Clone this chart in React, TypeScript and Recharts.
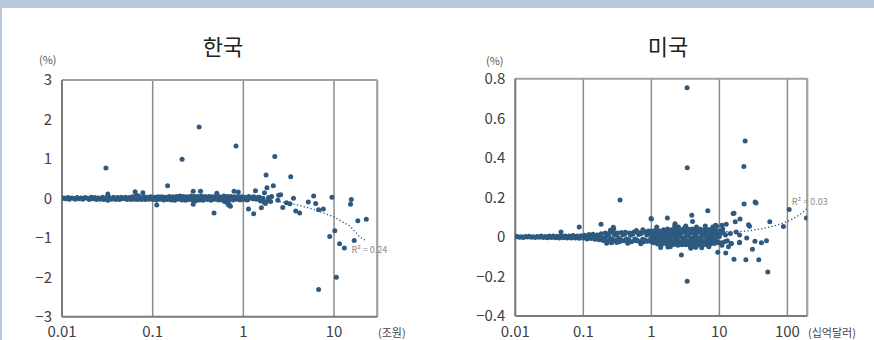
import React from 'react';
import { ScatterChart, Scatter, XAxis, YAxis, CartesianGrid, ReferenceLine, ReferenceDot } from 'recharts';

// ---------- Korea (한국) ----------
const krTitle = '한국';
const krXTicks = [0.01, 0.1, 1, 10];
const krYTicks = [-3, -2, -1, 0, 1, 2, 3];
const krBand: [number, number][] = [
  [0.010, 0], [0.0105, 0.01], [0.011, -0.01], [0.0116, 0.02], [0.012, -0.02], [0.0127, 0.01], [0.0133, 0],
  [0.014, -0.02], [0.0147, 0.02], [0.0155, -0.01], [0.0163, 0.01], [0.017, -0.02], [0.018, 0.02], [0.019, 0],
  [0.02, -0.03], [0.021, 0.03], [0.022, -0.01], [0.023, 0.02], [0.024, -0.03], [0.025, 0.01], [0.0265, -0.02],
  [0.028, 0.03], [0.029, -0.03], [0.031, 0.02], [0.032, -0.05], [0.033, 0.03], [0.035, -0.02], [0.037, 0.03],
  [0.039, -0.03], [0.041, 0.02], [0.043, -0.03], [0.045, 0.03], [0.047, -0.01], [0.05, 0.03], [0.052, -0.03],
  [0.055, 0.02], [0.058, -0.03], [0.06, 0.04], [0.063, -0.02], [0.066, 0.08], [0.068, -0.03], [0.07, 0.06],
  [0.072, 0.02], [0.075, -0.03], [0.08, 0.04], [0.083, -0.03], [0.087, 0.03], [0.091, -0.02], [0.095, 0.04],
  [0.1, -0.03], [0.105, 0.03], [0.11, -0.04], [0.115, 0.04], [0.12, -0.02], [0.126, 0.04], [0.132, -0.04],
  [0.138, 0.03], [0.145, -0.03], [0.152, 0.05], [0.16, -0.04], [0.167, 0.04], [0.175, -0.05], [0.183, 0.05],
  [0.19, -0.02], [0.2, 0.06], [0.21, -0.04], [0.22, 0.05], [0.23, -0.05], [0.24, 0.04], [0.25, -0.03],
  [0.265, 0.06], [0.275, -0.05], [0.29, 0.05], [0.3, -0.06], [0.315, 0.05], [0.33, -0.04], [0.345, 0.06],
  [0.36, -0.05], [0.38, 0.05], [0.4, -0.03], [0.42, 0.05], [0.44, -0.05], [0.46, 0.04], [0.48, -0.02],
  [0.5, 0.05], [0.53, -0.04], [0.55, 0.04], [0.58, -0.04], [0.61, 0.06], [0.64, -0.05], [0.67, 0.05],
  [0.7, -0.03], [0.73, 0.05], [0.77, -0.04], [0.8, 0.04], [0.84, -0.02], [0.88, 0.05], [0.92, -0.04],
  [0.96, 0.04], [1.0, -0.03], [1.05, 0.03], [1.1, -0.04], [1.15, 0.05], [1.2, 0.02], [1.3, 0.04],
  [1.4, -0.02], [1.5, 0.03], [0.65, -0.1], [0.68, -0.13], [0.7, -0.16], [0.62, -0.08],
  [1.12, -0.03], [1.27, -0.01], [1.45, 0.03], [1.55, -0.07], [1.65, 0.0], [1.7, -0.1], [1.85, -0.06],
  [1.9, 0.02], [2.0, -0.08], [2.05, 0.05], [2.4, -0.05], [2.45, 0.08],
  [0.107, 0.0], [0.123, 0.01], [0.141, -0.01], [0.163, 0.01], [0.187, 0.0], [0.215, -0.01], [0.245, 0.01],
  [0.28, 0.0], [0.322, -0.01], [0.37, 0.01], [0.425, 0.0], [0.49, -0.01], [0.56, 0.01], [0.645, 0.0],
  [0.74, -0.01], [0.85, 0.01], [0.98, 0.0], [1.13, 0.01], [1.3, -0.01],
];
const krOutliers: [number, number][] = [
  [0.0305, 0.77], [0.032, 0.11], [0.064, 0.17], [0.078, 0.14], [0.111, -0.17], [0.146, 0.32], [0.211, 0.99],
  [0.28, 0.18], [0.337, 0.18], [0.28, -0.15], [0.325, 1.81], [0.475, -0.37], [0.51, 0.13], [0.686, -0.17],
  [0.72, -0.2], [0.79, 0.18], [0.88, 0.16], [0.83, 1.33], [1.14, -0.27], [1.3, -0.39], [1.36, 0.19],
  [1.58, -0.24], [1.71, 0.14], [1.75, -0.13], [1.78, 0.59], [1.82, 0.27], [2.14, 0.32], [2.22, 1.06],
  [2.58, 0.09], [2.72, -0.23], [2.99, -0.11], [3.26, -0.14], [3.33, 0.55], [3.57, 0.0], [3.78, -0.32],
  [4.18, -0.37], [5.2, -0.09], [5.96, 0.06], [6.27, -0.13], [6.76, -0.29], [7.62, -0.27], [9.48, 0.03],
  [15.5, -0.03], [15.2, -0.15], [8.96, -0.97], [10.2, -0.82], [11.5, -1.15], [13.0, -1.26], [16.7, -1.07],
  [18.3, -0.57], [22.7, -0.53], [10.6, -2.0], [6.76, -2.31],
];
const krTrend: [number, number][] = [
  [2.3, -0.07], [3, -0.11], [4, -0.17], [5.4, -0.25], [7, -0.34], [8.5, -0.41], [10, -0.47],
  [12, -0.58], [14.9, -0.7], [17.5, -0.87], [19, -0.97], [22.5, -1.07],
];
const krR2 = 'R² = 0.24';
const krUnit = '(조원)';

// ---------- USA (미국) ----------
const usTitle = '미국';
const usXTicks = [0.01, 0.1, 1, 10, 100];
const usYTicks = [-0.4, -0.2, 0, 0.2, 0.4, 0.6, 0.8];
const usBand: [number, number][] = [
  [0.01, 0], [0.0107, 0.002], [0.0115, -0.002], [0.0123, 0.001], [0.0131, -0.003], [0.014, 0.002],
  [0.015, -0.001], [0.016, 0.003], [0.0172, -0.002], [0.0184, 0.001], [0.0197, -0.003], [0.021, 0.002],
  [0.0225, -0.002], [0.024, 0.004], [0.0258, -0.003], [0.0276, 0.002], [0.0295, -0.004], [0.0316, 0.005],
  [0.0338, -0.003], [0.0362, 0.004], [0.0387, -0.004], [0.0414, 0.003], [0.0443, -0.005], [0.0474, 0.006],
  [0.0507, -0.004], [0.0543, 0.005], [0.058, -0.006], [0.062, 0.004], [0.0665, -0.005], [0.071, 0.007],
  [0.076, -0.006], [0.0815, 0.005], [0.087, -0.007], [0.093, 0.006], [0.1, -0.005],
  [0.105, 0.008], [0.113, -0.01], [0.121, 0.012], [0.13, -0.008], [0.139, 0.014], [0.149, -0.012],
  [0.16, 0.01], [0.171, -0.015], [0.183, 0.016], [0.196, -0.018], [0.21, 0.02], [0.225, -0.02],
  [0.241, 0.018], [0.258, -0.022], [0.276, 0.022], [0.296, -0.018], [0.317, 0.02], [0.339, -0.024],
  [0.363, 0.022], [0.389, -0.02], [0.416, 0.024], [0.446, -0.022], [0.477, 0.02], [0.511, -0.025],
  [0.547, 0.024], [0.586, -0.02], [0.627, 0.025], [0.672, -0.024], [0.719, 0.022], [0.77, -0.025],
  [0.825, 0.024], [0.883, -0.022], [0.946, 0.025],
  [0.108, -0.002], [0.125, 0.003], [0.144, -0.004], [0.166, 0.005], [0.19, -0.006], [0.218, 0.004],
  [0.25, -0.008], [0.287, 0.008], [0.33, -0.006], [0.38, 0.01], [0.43, -0.01], [0.495, 0.008],
  [0.57, -0.01], [0.65, 0.012], [0.745, -0.012], [0.855, 0.01], [0.98, -0.008],
  [0.117, -0.006], [0.135, 0.007], [0.155, -0.008], [0.178, 0.01], [0.204, -0.012], [0.234, 0.012],
  [0.268, -0.014], [0.308, 0.014], [0.354, -0.014], [0.406, 0.015], [0.466, -0.015], [0.535, 0.015],
  [0.614, -0.016], [0.705, 0.016], [0.81, -0.016], [0.93, 0.016],
  [0.22, -0.032], [0.26, -0.03], [0.31, -0.028], [0.45, -0.032], [0.7, -0.035], [0.9, 0.03], [0.6, 0.032], [0.75, 0.036],
  [1.0, 0.03], [1.07, -0.03], [1.15, 0.034], [1.23, -0.036], [1.32, 0.03], [1.41, -0.038], [1.51, 0.036],
  [1.62, -0.034], [1.73, 0.04], [1.86, -0.04], [1.99, 0.036], [2.13, -0.038], [2.28, 0.04], [2.45, -0.042],
  [2.62, 0.038], [2.81, -0.04], [3.01, 0.042], [3.22, -0.04], [3.45, 0.04], [3.7, -0.044], [3.96, 0.04],
  [4.24, -0.042], [4.55, 0.044], [4.87, -0.04], [5.22, 0.04], [5.59, -0.042], [5.99, 0.036], [6.42, -0.04],
  [6.88, 0.038], [7.37, -0.036], [7.9, 0.04], [8.46, -0.034], [9.06, 0.032], [9.7, -0.03],
  [1.03, 0.01], [1.11, -0.012], [1.19, 0.014], [1.27, -0.01], [1.36, 0.016], [1.46, -0.016], [1.57, 0.012],
  [1.68, -0.018], [1.8, 0.018], [1.92, -0.014], [2.06, 0.02], [2.2, -0.02], [2.36, 0.016], [2.53, -0.022],
  [2.71, 0.02], [2.9, -0.018], [3.11, 0.022], [3.33, -0.02], [3.57, 0.018], [3.83, -0.022], [4.1, 0.02],
  [4.4, -0.02], [4.71, 0.022], [5.05, -0.018], [5.41, 0.02], [5.8, -0.02], [6.2, 0.018], [6.65, -0.016],
  [7.12, 0.02], [7.63, -0.014], [8.17, 0.016], [8.76, -0.01], [9.38, 0.012],
  [1.01, -0.024], [1.09, 0.024], [1.17, -0.026], [1.25, 0.026], [1.34, -0.026], [1.44, 0.028], [1.54, -0.028],
  [1.65, 0.026], [1.77, -0.028], [1.89, 0.03], [2.02, -0.03], [2.16, 0.028], [2.32, -0.03], [2.49, 0.03],
  [2.66, -0.03], [2.86, 0.032], [3.06, -0.032], [3.28, 0.03], [3.51, -0.032], [3.76, 0.03], [4.03, -0.032],
  [4.32, 0.032], [4.63, -0.03], [4.96, 0.03], [5.31, -0.03], [5.69, 0.03], [6.09, -0.028], [6.53, 0.028],
  [6.99, -0.028], [7.49, 0.026], [8.03, -0.024], [8.6, 0.024], [9.21, -0.022], [9.87, 0.02],
  [1.13, 0.006], [1.3, -0.008], [1.5, 0.008], [1.72, -0.008], [1.97, 0.01], [2.25, -0.01], [2.58, 0.01],
  [2.95, -0.01], [3.38, 0.01], [3.87, -0.01], [4.43, 0.01], [5.07, -0.01], [5.8, 0.01], [6.6, -0.01],
  [7.55, 0.01], [8.6, -0.008], [9.8, 0.006],
  [1.05, -0.002], [1.2, 0.002], [1.38, -0.004], [1.58, 0.003], [1.8, -0.002], [2.05, 0.004], [2.35, -0.004],
  [2.68, 0.002], [3.05, -0.003], [3.5, 0.003], [4.0, -0.004], [4.55, 0.002], [5.2, -0.003], [5.95, 0.004],
  [6.8, -0.002], [7.75, 0.003], [8.85, -0.004], [10.0, 0.002],
  [1.2, 0.05], [2.5, 0.05], [3.2, 0.055], [4.6, 0.05], [5.5, -0.055], [6.2, 0.055], [7.0, -0.05],
  [8.0, 0.05], [8.8, 0.059], [9.1, 0.054], [1.9, -0.05], [3.8, -0.058], [2.2, 0.055], [4.5, -0.052],
  [10.3, 0.03], [10.8, -0.03], [11.4, 0.02], [12.0, -0.025], [12.6, 0.064], [13.1, -0.02], [14.5, 0.017],
  [15.0, -0.034], [17.7, 0.025], [19.8, 0.009], [19.7, -0.03], [10.9, 0.059], [10.9, -0.042], [13.6, -0.05],
  [11.2, 0.04], [12.3, 0.01],
];
const usOutliers: [number, number][] = [
  [0.047, 0.025], [0.087, 0.05], [0.182, 0.064], [0.25, 0.034], [0.276, 0.049], [0.28, 0.04], [0.347, 0.186],
  [0.99, 0.093], [1.0, 0.09], [1.37, -0.054], [1.75, -0.051], [1.72, 0.095], [2.23, 0.066], [2.76, -0.091],
  [3.35, 0.754], [3.37, 0.35], [3.36, -0.224], [3.93, 0.11], [4.03, 0.078], [4.4, -0.051], [6.75, 0.132],
  [9.46, -0.077], [12.4, -0.081], [15.9, 0.118], [16.4, 0.12], [17.1, 0.076], [20.1, 0.091], [16.4, -0.113],
  [22.9, 0.356], [23.9, 0.485], [23.1, 0.166], [33.5, 0.176], [34.6, 0.172], [26.8, 0.061], [27.7, 0.054],
  [25.2, -0.005], [24.5, -0.116], [37.9, -0.116], [51.5, -0.177], [30.6, -0.062], [33.3, -0.022],
  [41.5, -0.03], [49.2, -0.02], [55.1, 0.076], [87.3, 0.053], [106, 0.139], [190, 0.096], [19.8, -0.027],
  [14.9, -0.034],
];
const usTrend: [number, number][] = [
  [10, 0.028], [12, 0.026], [16, 0.026], [22, 0.028], [28, 0.031], [40, 0.04], [55, 0.05], [70, 0.06],
  [87, 0.07], [110, 0.085], [140, 0.105], [170, 0.125], [195, 0.145],
];
const usR2 = 'R² = 0.03';
const usUnit = '(십억달러)';

// ---------- styling ----------
const DOT = '#2e5a80';
const FONT = '"Noto Sans CJK KR", "Noto Sans", sans-serif';
const toObj = (a: [number, number][]) => a.map(([x, y]) => ({ x, y }));
const fmtY = (v: number) => (v < 0 ? '\u2212' + String(Math.abs(v)) : String(v));
const fmtX = (v: number) => String(v);
const tickStyle = { fontSize: 15, fill: '#404040', fontFamily: FONT };

const Dot = (p: any) => <circle cx={p.cx} cy={p.cy} r={2.5} fill={DOT} />;
const NoDot = () => <g />;

type PanelProps = {
  left: number;
  width: number;
  yAxisWidth: number;
  marginTop: number;
  marginRight: number;
  xAxisHeight: number;
  xDomain: [number, number];
  yDomain: [number, number];
  xTicks: number[];
  yTicks: number[];
  band: [number, number][];
  outliers: [number, number][];
  trend: [number, number][];
  r2: string;
  r2Pos: [number, number];
};

function Panel(p: PanelProps) {
  return (
    <div style={{ position: 'absolute', left: p.left, top: 0 }}>
      <ScatterChart
        width={p.width}
        height={340}
        margin={{ top: p.marginTop, right: p.marginRight, bottom: 0, left: 0 }}
      >
        <CartesianGrid horizontal={false} stroke="#8c8c8c" strokeWidth={1.5} />
        <XAxis
          type="number"
          dataKey="x"
          scale="log"
          domain={p.xDomain}
          ticks={p.xTicks}
          allowDataOverflow
          tickFormatter={fmtX}
          tick={tickStyle}
          tickLine={false}
          tickSize={4}
          tickMargin={6}
          height={p.xAxisHeight}
          axisLine={{ stroke: '#7a7a7a', strokeWidth: 2 }}
          interval={0}
        />
        <YAxis
          type="number"
          dataKey="y"
          domain={p.yDomain}
          ticks={p.yTicks}
          allowDataOverflow
          tickFormatter={fmtY}
          tick={tickStyle}
          tickLine={false}
          tickSize={4}
          tickMargin={6}
          width={p.yAxisWidth}
          axisLine={{ stroke: '#7a7a7a', strokeWidth: 2 }}
          interval={0}
        />
        <ReferenceLine y={p.yDomain[1]} stroke="#a0a0a0" strokeWidth={2} />
        <ReferenceLine x={p.xDomain[1]} stroke="#a0a0a0" strokeWidth={2} />
        <Scatter data={toObj(p.band)} shape={Dot} isAnimationActive={false} />
        <Scatter data={toObj(p.outliers)} shape={Dot} isAnimationActive={false} />
        <Scatter
          data={toObj(p.trend)}
          shape={NoDot}
          line={{ stroke: DOT, strokeWidth: 1.3, strokeDasharray: '1.3 2.2' }}
          isAnimationActive={false}
        />
        <ReferenceDot
          x={p.r2Pos[0]}
          y={p.r2Pos[1]}
          r={0}
          stroke="none"
          fill="none"
          label={{ value: p.r2, position: 'right', fontSize: 9, fill: '#8a8a8a', fontFamily: FONT }}
        />
      </ScatterChart>
    </div>
  );
}

const txt = (extra: React.CSSProperties): React.CSSProperties => ({
  position: 'absolute',
  fontFamily: FONT,
  whiteSpace: 'nowrap',
  ...extra,
});

export default function App() {
  return (
    <div
      style={{
        position: 'absolute',
        left: 0,
        top: 0,
        width: 874,
        height: 340,
        overflow: 'hidden',
        background: '#ffffff',
      }}
    >
      <div style={{ position: 'absolute', left: 0, top: 0, width: 874, height: 8, background: '#b8c9dc' }} />
      <div style={{ position: 'absolute', left: 0, top: 0, width: 2, height: 340, background: '#b8c9dc' }} />

      <Panel
        left={0}
        width={440}
        yAxisWidth={62}
        marginTop={80}
        marginRight={62.7}
        xAxisHeight={23.3}
        xDomain={[0.01, 30]}
        yDomain={[-3, 3]}
        xTicks={krXTicks}
        yTicks={krYTicks}
        band={krBand}
        outliers={krOutliers}
        trend={krTrend}
        r2={krR2}
        r2Pos={[13.7, -1.31]}
      />
      <Panel
        left={440}
        width={434}
        yAxisWidth={75.3}
        marginTop={78.7}
        marginRight={66.7}
        xAxisHeight={24}
        xDomain={[0.01, 196]}
        yDomain={[-0.4, 0.8]}
        xTicks={usXTicks}
        yTicks={usYTicks}
        band={usBand}
        outliers={usOutliers}
        trend={usTrend}
        r2={usR2}
        r2Pos={[98, 0.177]}
      />

      <div style={txt({ left: 183, width: 80, top: 31, lineHeight: '28px', fontSize: 22, color: '#222', textAlign: 'center' })}>
        {krTitle}
      </div>
      <div style={txt({ left: 628, width: 80, top: 31, lineHeight: '28px', fontSize: 22, color: '#222', textAlign: 'center' })}>
        {usTitle}
      </div>
      <div style={txt({ left: 39, top: 52, lineHeight: '14px', fontSize: 11, color: '#555' })}>(%)</div>
      <div style={txt({ left: 486, top: 53, lineHeight: '14px', fontSize: 11, color: '#555' })}>(%)</div>
      <div style={txt({ left: 378, top: 325, lineHeight: '14px', fontSize: 11, color: '#444' })}>{krUnit}</div>
      <div style={txt({ left: 808, top: 325, lineHeight: '14px', fontSize: 11, color: '#444' })}>{usUnit}</div>
    </div>
  );
}
